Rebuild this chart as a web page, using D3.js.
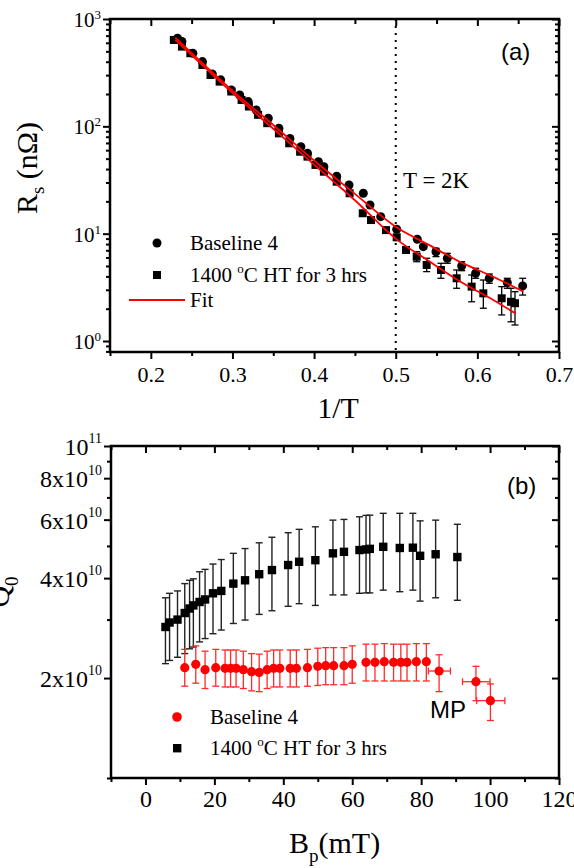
<!DOCTYPE html>
<html>
<head>
<meta charset="utf-8">
<script src="https://cdn.jsdelivr.net/npm/d3@7"></script>
<style>
  body { margin: 0; background: #fff; }
  svg { display: block; }
  text { font-family: "Liberation Serif", "Times New Roman", serif; fill: #000; }
  text.sans { font-family: "Liberation Sans", Arial, sans-serif; }
</style>
</head>
<body>
<svg id="chart" width="574" height="868"></svg>
<script>
// ---------- panel (a): Rs vs 1/T ----------
const a_baseX  = [0.2327,0.2381,0.2515,0.2632,0.2753,0.2856,0.2986,0.3089,0.3193,0.3291,0.3439,0.3569,0.3704,0.3838,0.3919,0.4053,0.4120,0.4277,0.4428,0.4603,0.4685,0.4816,0.5012,0.5264,0.5338,0.5493,0.5632,0.5808,0.5979,0.6146,0.6367,0.6555];
const a_baseY  = [662,617,480,401,308,271,218,196,170,142,119,96,77,64.7,56.1,46.9,42.1,34.3,28.4,23.8,18.5,14.4,11.0,8.87,7.57,6.79,5.90,5.00,4.28,3.84,3.49,3.26];
const a_baseLo = [null,null,null,null,null,null,null,null,null,null,null,null,null,null,null,null,null,null,null,null,null,null,null,null,null,6.11,5.30,4.52,3.84,3.45,3.10,2.68];
const a_baseHi = [null,null,null,null,null,null,null,null,null,null,null,null,null,null,null,null,null,null,null,null,null,null,null,null,null,7.31,6.56,5.48,4.76,4.21,3.84,3.84];

const a_htX  = [0.2282,0.2381,0.2484,0.2632,0.2731,0.2843,0.2986,0.3112,0.3201,0.3314,0.3426,0.3569,0.3695,0.3829,0.3919,0.4017,0.4120,0.4277,0.4435,0.4596,0.4697,0.4881,0.5012,0.5126,0.5257,0.5379,0.5554,0.5746,0.5930,0.6073,0.6298,0.6412,0.6461];
const a_htY  = [638,553,480,373,301,261,211,176,153,128,107,86,69.5,58,52.2,43.7,37.8,30.5,23.8,15.5,13.4,10.8,9.25,7.05,6.10,5.11,4.59,3.84,3.21,2.78,2.50,2.32,2.25];
const a_htLo = [null,null,null,null,null,null,null,null,null,null,null,null,null,null,null,null,null,null,null,null,null,null,null,null,5.48,4.43,3.84,3.10,2.32,2.02,1.75,1.51,1.41];
const a_htHi = [null,null,null,null,null,null,null,null,null,null,null,null,null,null,null,null,null,null,null,null,null,null,null,null,6.79,5.90,5.30,4.59,4.12,3.70,3.21,3.10,2.88];

// fit curves
const a_fitBaseX = [0.230,0.300,0.350,0.400,0.450,0.500,0.540,0.580,0.620,0.656];
const a_fitBaseY = [670,215,103,48,23.5,11.6,7.9,5.4,3.95,2.9];
const a_fitHtX   = [0.230,0.300,0.350,0.400,0.450,0.500,0.540,0.580,0.620,0.647];
const a_fitHtY   = [640,205,95,44,20.5,9.0,5.6,3.55,2.4,1.8];

const a_xMajor = [0.2,0.3,0.4,0.5,0.6,0.7];
const a_xMinor = [0.15,0.25,0.35,0.45,0.55,0.65];
const a_yMajor = [1,10,100,1000];
const a_yLabels = ['0','1','2','3'];   // exponents of 10

// ---------- panel (b): Q0 vs Bp ----------
const b_htX  = [5.8,7.0,9.3,11.4,12.8,13.9,15.7,17.3,19.6,22.0,25.5,28.9,33.0,36.7,41.4,44.6,49.3,54.4,57.6,62.1,64.0,65.1,69.0,73.8,77.6,79.7,84.2,90.5];
const b_htY  = [2.85,2.94,3.00,3.14,3.24,3.31,3.39,3.45,3.60,3.66,3.85,3.94,4.11,4.23,4.38,4.48,4.53,4.75,4.80,4.86,4.88,4.90,4.97,4.93,4.94,4.67,4.72,4.63];
const b_htLo = [2.21,2.26,2.31,2.37,2.45,2.48,2.57,2.63,2.72,2.79,2.92,2.99,3.11,3.19,3.29,3.35,3.31,3.56,3.56,3.60,3.61,3.61,3.68,3.64,3.68,3.41,3.49,3.43];
const b_htHi = [3.49,3.60,3.66,3.85,3.94,3.98,4.18,4.25,4.41,4.55,4.75,4.91,5.11,5.31,5.48,5.61,5.71,5.98,6.01,6.12,6.18,6.19,6.27,6.27,6.27,5.95,5.98,5.81];

const b_baseX  = [11.4,14.6,17.3,20.4,23.1,24.7,26.3,28.4,30.8,33.0,35.3,37.2,39.0,42.0,43.8,47.0,50.0,52.3,54.6,57.6,60.0,64.0,66.6,69.3,72.0,74.1,75.9,78.6,81.5,85.2,95.9,100.1];
const b_baseY  = [2.15,2.20,2.12,2.15,2.14,2.14,2.14,2.12,2.09,2.08,2.12,2.14,2.14,2.14,2.14,2.15,2.17,2.18,2.18,2.18,2.20,2.23,2.23,2.24,2.23,2.23,2.23,2.24,2.24,2.10,1.95,1.71];
const b_baseLo = [1.89,1.93,1.86,1.89,1.88,1.88,1.88,1.86,1.83,1.82,1.86,1.88,1.88,1.88,1.88,1.89,1.90,1.91,1.91,1.91,1.93,1.96,1.96,1.96,1.96,1.96,1.96,1.96,1.96,1.82,1.71,1.49];
const b_baseHi = [2.44,2.50,2.41,2.44,2.43,2.43,2.43,2.41,2.37,2.36,2.41,2.43,2.43,2.43,2.43,2.44,2.46,2.47,2.47,2.47,2.50,2.53,2.53,2.54,2.53,2.53,2.53,2.54,2.54,2.35,2.17,1.92];
// horizontal error only on the last three points
const b_baseXLo = [null,null,null,null,null,null,null,null,null,null,null,null,null,null,null,null,null,null,null,null,null,null,null,null,null,null,null,null,null,82.1,92.0,96.1];
const b_baseXHi = [null,null,null,null,null,null,null,null,null,null,null,null,null,null,null,null,null,null,null,null,null,null,null,null,null,null,null,null,null,88.5,100.0,104.3];

const b_xMajor = [0,20,40,60,80,100,120];
const b_xMinor = [-10,10,30,50,70,90,110];
const b_yMajor = [2,4,6,8,10];               // x 10^10
const b_yLabels = [['2x10','10'],['4x10','10'],['6x10','10'],['8x10','10'],['10','11']];
const b_yMinor = [1,3,5,7,9];

const RED = '#ff0000';
const svg = d3.select('#chart');

function drawAxis(g, axis, tx, ty, size) {
  const ax = g.append('g').attr('transform', `translate(${tx},${ty})`).call(axis);
  ax.select('.domain').remove();
  ax.selectAll('line').attr('stroke', '#000').attr('stroke-width', 2);
  ax.selectAll('text')
    .attr('font-size', size)
    .attr('fill', '#000');
  return ax;
}

function errV(g, xs, lo, hi, xScale, yScale, color, w) {
  xs.forEach((x, i) => {
    if (lo[i] == null) return;
    const px = xScale(x), y1 = yScale(lo[i]), y2 = yScale(hi[i]);
    g.append('line').attr('x1', px).attr('x2', px).attr('y1', y1).attr('y2', y2)
      .attr('stroke', color).attr('stroke-width', w);
    [y1, y2].forEach(yy => g.append('line')
      .attr('x1', px - 3.5).attr('x2', px + 3.5).attr('y1', yy).attr('y2', yy)
      .attr('stroke', color).attr('stroke-width', w));
  });
}

// ================= panel (a) =================
const a_w = 449, a_h = 333;
const a_g = svg.append('g').attr('transform', 'translate(110,19)');
const a_x = d3.scaleLinear().domain([0.15, 0.7]).range([0, a_w]);
const a_y = d3.scaleLog().domain([0.79, 1000]).range([a_h, 0]);
const a_yMinor = [];
[0.1, 1, 10, 100].forEach(d => { for (let k = 2; k <= 9; k++) { const v = d * k; if (v >= 0.79 && v < 1000) a_yMinor.push(v); } });

drawAxis(a_g, d3.axisBottom(a_x).tickValues(a_xMajor).tickSize(7).tickPadding(7).tickFormat(d3.format('.1f')), 0, a_h, 22);
drawAxis(a_g, d3.axisBottom(a_x).tickValues(a_xMinor).tickSize(4).tickFormat(''), 0, a_h, 22);
drawAxis(a_g, d3.axisTop(a_x).tickValues(a_xMajor).tickSize(-7).tickFormat(''), 0, 0, 22);
drawAxis(a_g, d3.axisTop(a_x).tickValues(a_xMinor).tickSize(-5).tickFormat(''), 0, 0, 22);
drawAxis(a_g, d3.axisLeft(a_y).tickValues(a_yMajor).tickSize(7).tickFormat(''), 0, 0, 21);
drawAxis(a_g, d3.axisLeft(a_y).tickValues(a_yMinor).tickSize(4).tickFormat(''), 0, 0, 21);
drawAxis(a_g, d3.axisRight(a_y).tickValues(a_yMajor).tickSize(-7).tickFormat(''), a_w, 0, 21);
drawAxis(a_g, d3.axisRight(a_y).tickValues(a_yMinor).tickSize(-4).tickFormat(''), a_w, 0, 21);

a_yMajor.forEach((v, i) => {
  const t = a_g.append('text').attr('x', -9).attr('y', a_y(v) + 8)
    .attr('text-anchor', 'end').attr('font-size', 21);
  t.append('tspan').text('10');
  t.append('tspan').attr('font-size', 13).attr('dy', -8).text(a_yLabels[i]);
});

a_g.append('rect').attr('width', a_w).attr('height', a_h)
  .attr('fill', 'none').attr('stroke', '#000').attr('stroke-width', 2.5);

// T = 2K marker
a_g.append('line').attr('x1', a_x(0.5)).attr('x2', a_x(0.5)).attr('y1', 0).attr('y2', a_h)
  .attr('stroke', '#000').attr('stroke-width', 2).attr('stroke-dasharray', '2,5');

errV(a_g, a_baseX, a_baseLo, a_baseHi, a_x, a_y, '#000', 1.3);
errV(a_g, a_htX, a_htLo, a_htHi, a_x, a_y, '#000', 1.3);

a_g.selectAll('.a-sq').data(a_htX).join('rect')
  .attr('x', (d) => a_x(d) - 4).attr('y', (d, i) => a_y(a_htY[i]) - 4)
  .attr('width', 8).attr('height', 8).attr('fill', '#000');
a_g.selectAll('.a-ci').data(a_baseX).join('circle')
  .attr('cx', d => a_x(d)).attr('cy', (d, i) => a_y(a_baseY[i])).attr('r', 4.5).attr('fill', '#000');

const fitLine = d3.line().x(d => a_x(d[0])).y(d => a_y(d[1])).curve(d3.curveCatmullRom);
a_g.append('path').datum(a_fitBaseX.map((x, i) => [x, a_fitBaseY[i]])).attr('d', fitLine)
  .attr('fill', 'none').attr('stroke', RED).attr('stroke-width', 1.8);
a_g.append('path').datum(a_fitHtX.map((x, i) => [x, a_fitHtY[i]])).attr('d', fitLine)
  .attr('fill', 'none').attr('stroke', RED).attr('stroke-width', 1.8);

// labels panel a
svg.append('text').attr('x', 403).attr('y', 188).attr('font-size', 23).text('T = 2K');
svg.append('text').attr('class', 'sans').attr('x', 501).attr('y', 60).attr('font-size', 24).text('(a)');
svg.append('text').attr('x', 338).attr('y', 418).attr('text-anchor', 'middle').attr('font-size', 30).text('1/T');
const rs = svg.append('text').attr('transform', 'translate(37,168) rotate(-90)')
  .attr('text-anchor', 'middle').attr('font-size', 30);
rs.append('tspan').text('R');
rs.append('tspan').attr('font-size', 19).attr('dy', 7).text('s');
rs.append('tspan').attr('dy', -7).text(' (n\u03A9)');

// legend panel a
svg.append('circle').attr('cx', 157).attr('cy', 243).attr('r', 4.5).attr('fill', '#000');
svg.append('text').attr('x', 190).attr('y', 250).attr('font-size', 21).text('Baseline 4');
svg.append('rect').attr('x', 153).attr('y', 271).attr('width', 8).attr('height', 8).attr('fill', '#000');
const lg1 = svg.append('text').attr('x', 190).attr('y', 282).attr('font-size', 21);
lg1.append('tspan').text('1400 ');
lg1.append('tspan').attr('font-size', 13).attr('dy', -9).text('o');
lg1.append('tspan').attr('dy', 9).text('C HT for 3 hrs');
svg.append('line').attr('x1', 129).attr('x2', 185).attr('y1', 300).attr('y2', 300)
  .attr('stroke', RED).attr('stroke-width', 1.8);
svg.append('text').attr('x', 190).attr('y', 307).attr('font-size', 21).text('Fit');

// ================= panel (b) =================
const b_w = 448, b_h = 332;
const b_g = svg.append('g').attr('transform', 'translate(111,446)');
const b_x = d3.scaleLinear().domain([-10, 120]).range([0, b_w]);
const b_y = d3.scaleLog().domain([1, 10]).range([b_h, 0]);

drawAxis(b_g, d3.axisBottom(b_x).tickValues(b_xMajor).tickSize(7).tickPadding(5).tickFormat(d3.format('d')), 0, b_h, 24);
drawAxis(b_g, d3.axisBottom(b_x).tickValues(b_xMinor).tickSize(4).tickFormat(''), 0, b_h, 24);
drawAxis(b_g, d3.axisTop(b_x).tickValues(b_xMajor).tickSize(-7).tickFormat(''), 0, 0, 24);
drawAxis(b_g, d3.axisTop(b_x).tickValues(b_xMinor).tickSize(-4).tickFormat(''), 0, 0, 24);
drawAxis(b_g, d3.axisLeft(b_y).tickValues(b_yMajor).tickSize(7).tickFormat(''), 0, 0, 24);
drawAxis(b_g, d3.axisLeft(b_y).tickValues(b_yMinor).tickSize(4).tickFormat(''), 0, 0, 24);
drawAxis(b_g, d3.axisRight(b_y).tickValues(b_yMajor).tickSize(-7).tickFormat(''), b_w, 0, 24);
drawAxis(b_g, d3.axisRight(b_y).tickValues(b_yMinor).tickSize(-4).tickFormat(''), b_w, 0, 24);

b_yMajor.forEach((v, i) => {
  const t = b_g.append('text').attr('x', -9).attr('y', b_y(v) + 9)
    .attr('text-anchor', 'end').attr('font-size', 24);
  t.append('tspan').text(b_yLabels[i][0]);
  t.append('tspan').attr('font-size', 14).attr('dy', -12).text(b_yLabels[i][1]);
});

b_g.append('rect').attr('width', b_w).attr('height', b_h)
  .attr('fill', 'none').attr('stroke', '#000').attr('stroke-width', 2.5);

// 1400 C HT series
errV(b_g, b_htX, b_htLo, b_htHi, b_x, b_y, '#222', 1.4);
b_g.selectAll('.b-sq').data(b_htX).join('rect')
  .attr('x', d => b_x(d) - 4.2).attr('y', (d, i) => b_y(b_htY[i]) - 4.2)
  .attr('width', 8.4).attr('height', 8.4).attr('fill', '#000');

// Baseline 4 series
errV(b_g, b_baseX, b_baseLo, b_baseHi, b_x, b_y, '#ff2a2a', 1.3);
b_baseX.forEach((x, i) => {
  if (b_baseXLo[i] == null) return;
  const yy = b_y(b_baseY[i]), x1 = b_x(b_baseXLo[i]), x2 = b_x(b_baseXHi[i]);
  b_g.append('line').attr('x1', x1).attr('x2', x2).attr('y1', yy).attr('y2', yy)
    .attr('stroke', '#ff2a2a').attr('stroke-width', 1.3);
  [x1, x2].forEach(xx => b_g.append('line').attr('x1', xx).attr('x2', xx)
    .attr('y1', yy - 3.5).attr('y2', yy + 3.5).attr('stroke', '#ff2a2a').attr('stroke-width', 1.3));
});
b_g.selectAll('.b-ci').data(b_baseX).join('circle')
  .attr('cx', d => b_x(d)).attr('cy', (d, i) => b_y(b_baseY[i])).attr('r', 4.6).attr('fill', RED);

// labels panel b
svg.append('text').attr('class', 'sans').attr('x', 507).attr('y', 494).attr('font-size', 24).text('(b)');
svg.append('text').attr('class', 'sans').attr('x', 430).attr('y', 718).attr('font-size', 24).text('MP');
const bp = svg.append('text').attr('x', 289).attr('y', 853).attr('font-size', 30);
bp.append('tspan').text('B');
bp.append('tspan').attr('font-size', 19).attr('dy', 9).text('p');
bp.append('tspan').attr('dy', -9).text('(mT)');
// y label is cut by the left edge in the original
const q0 = svg.append('text').attr('transform', 'translate(9,592) rotate(-90)')
  .attr('text-anchor', 'middle').attr('font-size', 30);
q0.append('tspan').text('Q');
q0.append('tspan').attr('font-size', 19).attr('dy', 9).text('0');

// legend panel b
svg.append('circle').attr('cx', 177).attr('cy', 717).attr('r', 4.8).attr('fill', RED);
svg.append('text').attr('x', 210).attr('y', 724).attr('font-size', 21).text('Baseline 4');
svg.append('rect').attr('x', 173).attr('y', 744).attr('width', 8.4).attr('height', 8.4).attr('fill', '#000');
const lg2 = svg.append('text').attr('x', 210).attr('y', 755).attr('font-size', 21);
lg2.append('tspan').text('1400 ');
lg2.append('tspan').attr('font-size', 13).attr('dy', -9).text('o');
lg2.append('tspan').attr('dy', 9).text('C HT for 3 hrs');
</script>
</body>
</html>
